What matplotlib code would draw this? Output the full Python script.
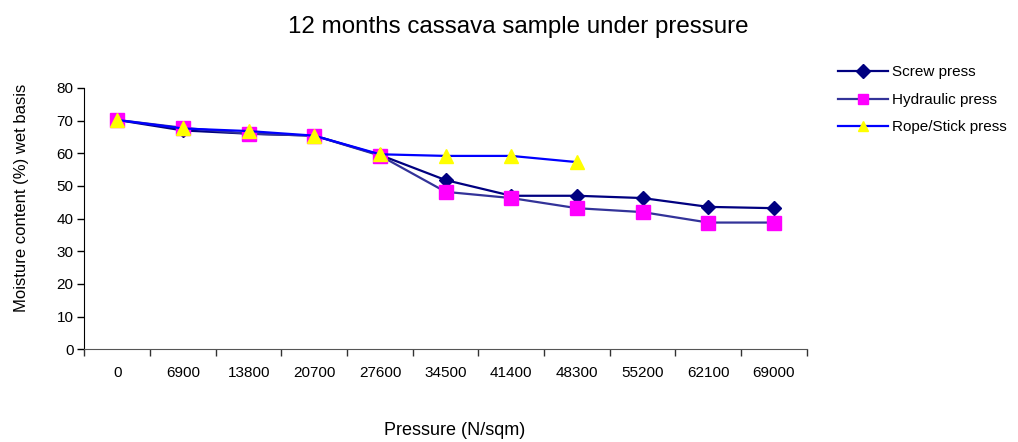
import matplotlib
matplotlib.use("Agg")
import matplotlib.pyplot as plt
from matplotlib.ticker import FixedLocator, NullFormatter, FixedFormatter

plt.rcParams['font.family'] = ['Liberation Sans', 'DejaVu Sans']

pressure = ["0", "6900", "13800", "20700", "27600", "34500", "41400",
            "48300", "55200", "62100", "69000"]
screw = [70.2, 67.0, 66.0, 65.4, 59.5, 51.8, 47.0, 47.0, 46.3, 43.6, 43.2]
hydraulic = [70.2, 67.8, 66.0, 65.4, 59.3, 48.2, 46.3, 43.2, 42.0, 38.8, 38.8]
rope = [70.2, 67.6, 66.8, 65.4, 59.7, 59.2, 59.2, 57.3]

fig = plt.figure(figsize=(10.18, 4.42), dpi=100)
ax = fig.add_axes([0.083, 0.2097, 0.7095, 0.5913])

xs = list(range(len(pressure)))
ax.plot(xs, screw, color='#000080', lw=1.6, marker='D', ms=7,
        mfc='#000080', mec='#000080', label='Screw press', zorder=3)
ax.plot(xs, hydraulic, color='#333399', lw=1.6, marker='s', ms=10,
        mfc='#FF00FF', mec='#FF00FF', label='Hydraulic press', zorder=4)
ax.plot(xs[:len(rope)], rope, color='#0000FF', lw=1.6, marker='^', ms=10,
        mfc='#FFFF00', mec='#FFFF00', label='Rope/Stick press', zorder=5)

ax.set_xlim(-0.5, len(pressure) - 0.5)
ax.set_ylim(0, 80)
ax.set_yticks(range(0, 81, 10))
ax.xaxis.set_major_locator(FixedLocator([i - 0.5 for i in range(len(pressure) + 1)]))
ax.xaxis.set_major_formatter(NullFormatter())
ax.xaxis.set_minor_locator(FixedLocator(xs))
ax.xaxis.set_minor_formatter(FixedFormatter(pressure))
ax.tick_params(axis='x', which='major', direction='out', length=5, width=1, color='#333333')
ax.tick_params(axis='x', which='minor', length=0, pad=12, labelsize=11)
ax.tick_params(axis='y', direction='out', length=5, width=1, labelsize=11, pad=3)
ax.spines['top'].set_visible(False)
ax.spines['right'].set_visible(False)
ax.spines['left'].set_color('#000000')
ax.spines['bottom'].set_color('#555555')

fig.text(0.509, 0.938, '12 months cassava sample under pressure',
         ha='center', va='center', fontsize=17.4)
fig.text(0.447, 0.025, 'Pressure (N/sqm)', ha='center', va='center', fontsize=13)
fig.text(0.021, 0.552, 'Moisture content (%) wet basis', ha='center', va='center',
         rotation=90, fontsize=12)

leg = ax.legend(loc='upper left', bbox_to_anchor=(0.823, 0.852), bbox_transform=fig.transFigure,
                frameon=False, fontsize=11, handlelength=3.3, handletextpad=0.25,
                labelspacing=0.88, borderaxespad=0, borderpad=0)
for h in leg.legend_handles:
    h.set_markersize(7)

fig.savefig('out.png', dpi=100)
